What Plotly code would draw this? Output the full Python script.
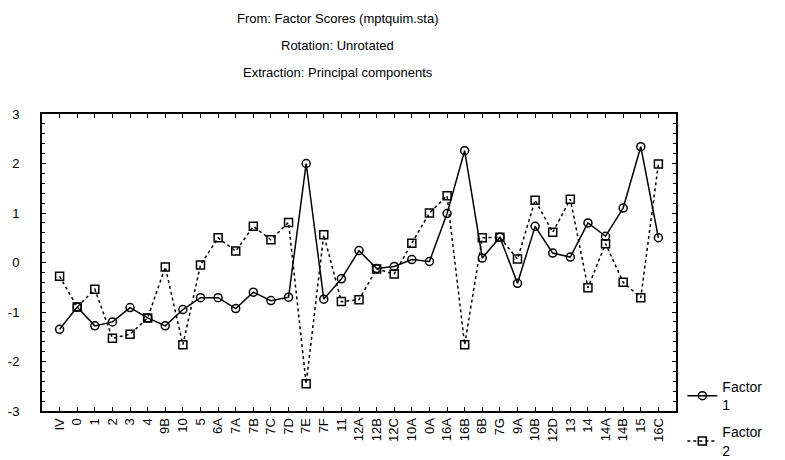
import plotly.graph_objects as go

# Casos (eixo X) e escores fatoriais
casos = ["IV", "0", "1", "2", "3", "4", "9B", "10", "5", "6A", "7A", "7B", "7C", "7D",
         "7E", "7F", "11", "12A", "12B", "12C", "10A", "0A", "16A", "16B", "6B", "7G",
         "9A", "10B", "12D", "13", "14", "14A", "14B", "15", "16C"]

fator1 = [-1.35, -0.9, -1.28, -1.2, -0.91, -1.12, -1.28, -0.95, -0.71, -0.71, -0.93,
          -0.6, -0.77, -0.7, 2.0, -0.74, -0.33, 0.24, -0.12, -0.08, 0.06, 0.02, 0.99,
          2.26, 0.09, 0.51, -0.42, 0.73, 0.19, 0.11, 0.8, 0.53, 1.1, 2.34, 0.5]

fator2 = [-0.28, -0.9, -0.54, -1.53, -1.45, -1.12, -0.09, -1.66, -0.05, 0.5, 0.23,
          0.73, 0.46, 0.81, -2.45, 0.56, -0.79, -0.75, -0.13, -0.23, 0.39, 1.0, 1.35,
          -1.66, 0.5, 0.51, 0.07, 1.26, 0.61, 1.28, -0.51, 0.38, -0.4, -0.71, 1.99]

y_ticks = [-3, -2, -1, 0, 1, 2, 3]
y_labels = ["-3", "-2", "-1", "0", "1", "2", "3"]

titulo = ["From: Factor Scores (mptquim.sta)", "Rotation: Unrotated",
          "Extraction: Principal components"]

fonte = dict(family="Liberation Sans, Arial, sans-serif", size=13, color="black")

fig = go.Figure()
fig.add_trace(go.Scatter(
    x=casos, y=fator1, name="Factor<br>1", mode="lines+markers", legendgroup="f1",
    line=dict(color="black", width=1.5, dash="solid"),
    marker=dict(symbol="circle-open", size=8, color="black", line=dict(width=1.5)),
))
fig.add_trace(go.Scatter(
    x=casos, y=fator2, name="Factor<br>2", mode="lines+markers", legendgroup="f2",
    line=dict(color="black", width=1.5, dash="dot"),
    marker=dict(symbol="square-open", size=8, color="black", line=dict(width=1.5)),
))

# Título em três linhas
for i, linha in enumerate(titulo):
    fig.add_annotation(text=linha, xref="paper", yref="paper",
                       x=(337 - 41) / 635, y=(411 - (17 + 27 * i)) / 298,
                       showarrow=False, xanchor="center", yanchor="middle",
                       font=fonte)

fig.update_layout(
    width=785, height=460,
    margin=dict(l=34, r=117, t=106, b=57, autoexpand=False),
    plot_bgcolor="white", paper_bgcolor="white",
    font=fonte,
    showlegend=True,
    legend=dict(x=1.01, y=-0.185, xanchor="left", yanchor="bottom",
                bgcolor="rgba(0,0,0,0)", font=dict(fonte, size=14), itemwidth=30,
                tracegroupgap=6),
    xaxis=dict(
        type="category", range=[-1, 35], tickangle=-90, automargin=False,
        showline=True, linecolor="black", linewidth=2, mirror="allticks",
        ticks="inside", ticklen=4, tickcolor="black", tickwidth=1,
        showgrid=False, zeroline=False, tickfont=fonte,
    ),
    yaxis=dict(
        range=[-3, 3], tickvals=y_ticks, ticktext=y_labels, automargin=False,
        showline=True, linecolor="black", linewidth=2, mirror="allticks",
        ticks="inside", ticklen=4, tickcolor="black", tickwidth=1,
        minor=dict(dtick=0.2, ticks="inside", ticklen=3, tickcolor="black"),
        showgrid=False, zeroline=False, tickfont=fonte, ticklabelstandoff=18,
    ),
)

fig.write_html("out.html")
